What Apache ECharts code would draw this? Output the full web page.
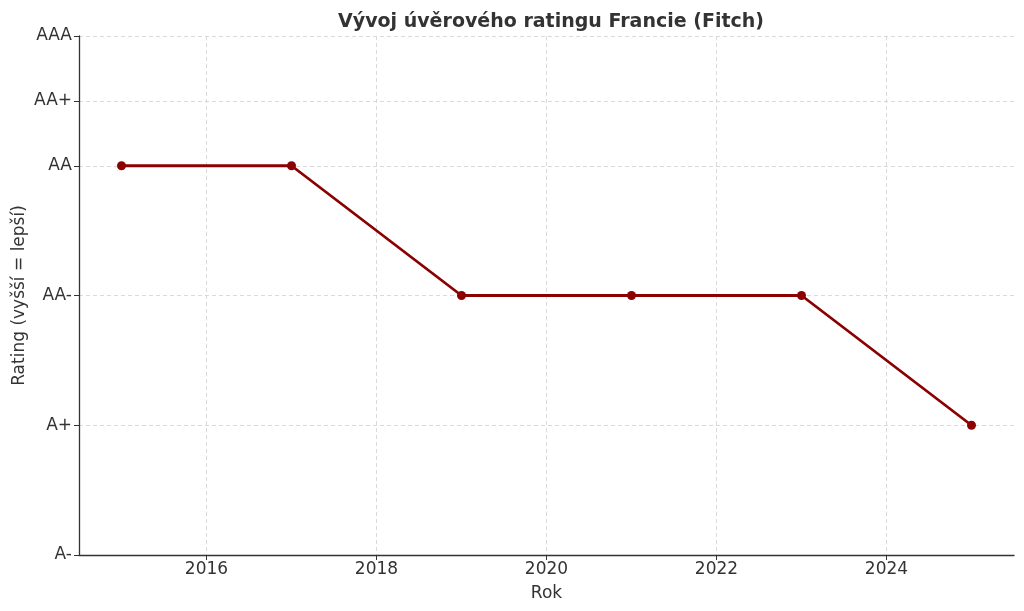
<!DOCTYPE html>
<html><head><meta charset="utf-8">
<script src="https://cdn.jsdelivr.net/npm/echarts@6/dist/echarts.min.js"></script>
<style>html,body{margin:0;padding:0;background:#fff}#c{width:1024px;height:611px}</style>
</head><body><div id="c"></div>
<script>
const years = [2015, 2017, 2019, 2021, 2023, 2025];
const ratings = ['AA', 'AA', 'AA-', 'AA-', 'AA-', 'A+'];
const ratingLabels = ['A-', 'A+', 'AA-', 'AA', 'AA+', 'AAA'];
const ratingValues = [2, 4, 6, 8, 9, 10];
const xTicks = [2016, 2018, 2020, 2022, 2024];

const scoreOf = {};
ratingLabels.forEach((l, i) => scoreOf[l] = ratingValues[i]);
const labelOf = {};
ratingLabels.forEach((l, i) => labelOf[ratingValues[i]] = l);

const font = 'DejaVu Sans';
const chart = echarts.init(document.getElementById('c'), null, {renderer: 'canvas'});
chart.setOption({
  animation: false,
  title: {
    text: 'Vývoj úvěrového ratingu Francie (Fitch)',
    left: 546, top: 8, textAlign: 'center',
    textStyle: {fontFamily: font, fontWeight: 'bold', fontSize: 19, color: '#333'}
  },
  grid: {left: 79, right: 10, top: 36, bottom: 56, containLabel: false, outerBoundsMode: 'none'},
  xAxis: {
    type: 'value', min: 2014.5, max: 2025.5,
    name: 'Rok', nameLocation: 'middle', nameGap: 30, nameMoveOverlap: false,
    nameTextStyle: {fontFamily: font, fontSize: 17, color: '#333'},
    axisLine: {show: true, onZero: false, lineStyle: {color: '#333', width: 1.3}},
    axisTick: {show: true, length: 5, customValues: xTicks, lineStyle: {color: '#333'}},
    axisLabel: {customValues: xTicks, fontFamily: font, fontSize: 17, color: '#333', margin: 6,
      formatter: v => String(v)},
    splitLine: {show: true, lineStyle: {type: [4, 3], color: '#d0d0d0', width: 0.8}}
  },
  yAxis: {
    type: 'value', min: 2, max: 10, interval: 1,
    name: 'Rating (vyšší = lepší)', nameLocation: 'middle', nameGap: 51, nameRotate: 90,
    nameMoveOverlap: false,
    nameTextStyle: {fontFamily: font, fontSize: 17, color: '#333'},
    axisLine: {show: true, lineStyle: {color: '#333', width: 1.3}},
    axisTick: {show: true, length: 5, customValues: ratingValues, lineStyle: {color: '#333'}},
    axisLabel: {customValues: ratingValues, fontFamily: font, fontSize: 17, color: '#333', margin: 7,
      padding: [2, 0, 0, 0], formatter: v => labelOf[v] || ''},
    splitLine: {show: true, lineStyle: {type: [4, 3], color: '#d0d0d0', width: 0.8}}
  },
  series: [{
    type: 'line',
    data: years.map((y, i) => [y, scoreOf[ratings[i]]]),
    symbol: 'circle', symbolSize: 9,
    lineStyle: {color: '#8B0000', width: 2.8},
    itemStyle: {color: '#8B0000'}
  }]
});
</script></body></html>
